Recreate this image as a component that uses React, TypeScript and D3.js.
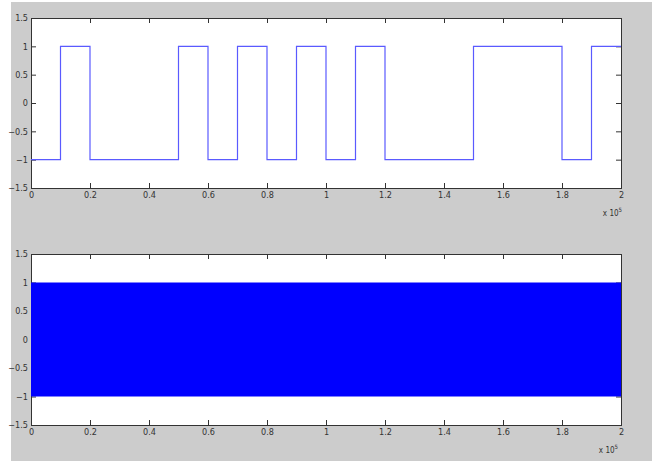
import React, { useEffect, useRef } from "react";
import * as d3 from "d3";

// DATA
const bitEdges = [0, 0.1, 0.2, 0.3, 0.4, 0.5, 0.6, 0.7, 0.8, 0.9, 1.0, 1.1, 1.2, 1.3, 1.4, 1.5, 1.6, 1.7, 1.8, 1.9, 2.0];
const bitLevels = [-1, 1, -1, -1, -1, 1, -1, 1, -1, 1, -1, 1, -1, -1, -1, 1, 1, 1, -1, 1];
// modulated carrier is so dense it reads as a solid band: keep its envelope
const carrierX = [0, 2.0];
const carrierHigh = [1, 1];
const carrierLow = [-1, -1];
const xTicks = [0, 0.2, 0.4, 0.6, 0.8, 1, 1.2, 1.4, 1.6, 1.8, 2];
const yTicks = [-1.5, -1, -0.5, 0, 0.5, 1, 1.5];

const W = 652;
const H = 461;
const FONT = "'Liberation Sans Narrow', 'DejaVu Sans Condensed', 'Arial Narrow', sans-serif";

export default function App() {
  const ref = useRef<SVGSVGElement>(null);

  useEffect(() => {
    const svg = d3.select(ref.current);
    svg.selectAll("*").remove();

    // FIGURE BACKGROUND
    svg.append("rect").attr("width", W).attr("height", H).attr("fill", "#fff");
    svg.append("rect").attr("x", 11).attr("y", 2).attr("width", W - 11).attr("height", H - 2).attr("fill", "#cccccc");

    const drawAxes = (top: number, bottom: number, exY: number, exX: number) => {
      const left = 31;
      const right = 621;
      const x = d3.scaleLinear().domain([0, 2]).range([left, right]);
      const y = d3.scaleLinear().domain([-1.5, 1.5]).range([bottom, top]);
      const g = svg.append("g");

      g.append("rect")
        .attr("x", left)
        .attr("y", top)
        .attr("width", right - left)
        .attr("height", bottom - top)
        .attr("fill", "#fff");

      // BOX + TICKS
      const axisStyle = (sel: d3.Selection<SVGGElement, unknown, null, undefined>) => {
        sel.select(".domain").remove();
        sel.selectAll(".tick line").attr("stroke", "#333").attr("stroke-width", 1);
        sel.selectAll(".tick text").attr("fill", "#333").style("font-family", FONT).style("font-size", "9px");
      };

      g.append("g")
        .attr("transform", `translate(0,${bottom})`)
        .call(d3.axisBottom(x).tickValues(xTicks).tickSize(-5).tickPadding(4).tickFormat(d3.format("")))
        .call(axisStyle);
      g.append("g")
        .attr("transform", `translate(0,${top})`)
        .call(d3.axisTop(x).tickValues(xTicks).tickSize(-5).tickFormat(() => ""))
        .call(axisStyle);
      g.append("g")
        .attr("transform", `translate(${left},0)`)
        .call(d3.axisLeft(y).tickValues(yTicks).tickSize(-5).tickPadding(3).tickFormat(d3.format("")))
        .call(axisStyle);
      g.append("g")
        .attr("transform", `translate(${right},0)`)
        .call(d3.axisRight(y).tickValues(yTicks).tickSize(-5).tickFormat(() => ""))
        .call(axisStyle);

      g.append("rect")
        .attr("x", left + 0.5)
        .attr("y", top + 0.5)
        .attr("width", right - left)
        .attr("height", bottom - top)
        .attr("fill", "none")
        .attr("stroke", "#333");

      // EXPONENT LABEL
      const ex = g.append("text")
        .attr("x", exX)
        .attr("y", exY)
        .attr("text-anchor", "end")
        .attr("fill", "#333")
        .style("font-family", FONT)
        .style("font-size", "8px");
      ex.append("tspan").text("x 10");
      ex.append("tspan").attr("dy", -4).style("font-size", "6px").text("5");

      // data sits above the axes, as in the original
      const plot = g.append("g");
      return { x, y, plot };
    };

    // TOP: BIT SEQUENCE
    const a1 = drawAxes(18, 188, 216, 622);
    const steps = bitLevels.map((v, i) => ({ t: bitEdges[i], v }));
    steps.push({ t: bitEdges[bitEdges.length - 1], v: bitLevels[bitLevels.length - 1] });
    const stepLine = d3
      .line<{ t: number; v: number }>()
      .x((d) => a1.x(d.t))
      .y((d) => a1.y(d.v))
      .curve(d3.curveStepAfter);
    a1.plot
      .append("path")
      .datum(steps)
      .attr("fill", "none")
      .attr("stroke", "#5a5aff")
      .attr("stroke-width", 1.2)
      .attr("d", stepLine);

    // BOTTOM: MODULATED CARRIER
    const a2 = drawAxes(254, 425, 453, 618);
    const band = carrierX.map((t, i) => ({ t, hi: carrierHigh[i], lo: carrierLow[i] }));
    const area = d3
      .area<{ t: number; hi: number; lo: number }>()
      .x((d) => a2.x(d.t))
      .y0((d) => a2.y(d.lo))
      .y1((d) => a2.y(d.hi));
    a2.plot.append("path").datum(band).attr("fill", "#0000ff").attr("d", area);
  }, []);

  return (
    <div style={{ position: "absolute", left: 0, top: 0 }}>
      <svg ref={ref} width={W} height={H} style={{ display: "block" }} />
    </div>
  );
}
